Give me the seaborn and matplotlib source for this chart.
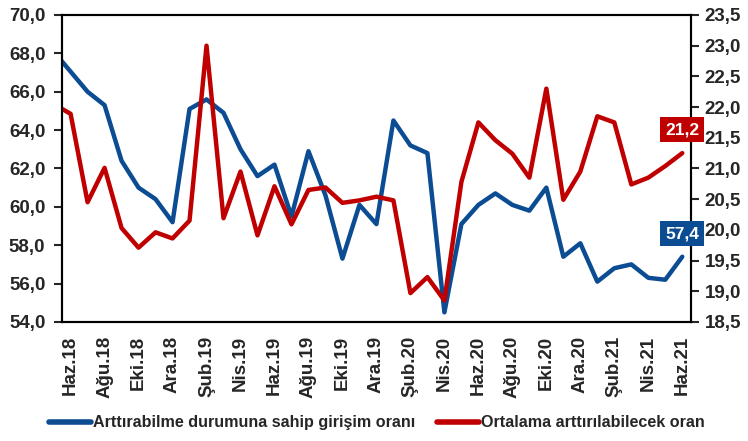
import matplotlib
matplotlib.use('Agg')
import matplotlib.pyplot as plt
from matplotlib.ticker import FixedLocator, FuncFormatter, MultipleLocator
import seaborn as sns
import pandas as pd

# aylar (ilk nokta May.18 eksenin solunda kalıyor, sadece çizgi başlangıcı görünüyor)
months = ['May.18', 'Haz.18', 'Tem.18', 'Ağu.18', 'Eyl.18', 'Eki.18', 'Kas.18', 'Ara.18',
          'Oca.19', 'Şub.19', 'Mar.19', 'Nis.19', 'May.19', 'Haz.19', 'Tem.19', 'Ağu.19',
          'Eyl.19', 'Eki.19', 'Kas.19', 'Ara.19', 'Oca.20', 'Şub.20', 'Mar.20', 'Nis.20',
          'May.20', 'Haz.20', 'Tem.20', 'Ağu.20', 'Eyl.20', 'Eki.20', 'Kas.20', 'Ara.20',
          'Oca.21', 'Şub.21', 'Mar.21', 'Nis.21', 'May.21', 'Haz.21']

# sol eksen: arttırabilme durumuna sahip girişim oranı (%)
share_firms = [68.1, 67.05, 66.0, 65.3, 62.4, 61.0, 60.4, 59.2, 65.1, 65.6, 64.9, 63.0,
               61.6, 62.2, 59.5, 62.9, 60.6, 57.3, 60.1, 59.1, 64.5, 63.2, 62.8, 54.5,
               59.1, 60.1, 60.7, 60.1, 59.8, 61.0, 57.4, 58.1, 56.1, 56.8, 57.0, 56.3,
               56.2, 57.4]

# sağ eksen: ortalama arttırılabilecek oran (%)
avg_rate = [22.05, 21.89, 20.45, 21.01, 20.03, 19.71, 19.96, 19.86, 20.15, 23.0, 20.19,
            20.95, 19.91, 20.71, 20.09, 20.65, 20.69, 20.44, 20.48, 20.54, 20.48, 18.97,
            19.23, 18.85, 20.78, 21.75, 21.46, 21.24, 20.85, 22.3, 20.49, 20.95, 21.85,
            21.75, 20.74, 20.85, 21.04, 21.25]

label_blue = 'Arttırabilme durumuna sahip girişim oranı'
label_red = 'Ortalama arttırılabilecek oran'

BLUE = '#0B4C93'
RED = '#C00000'

df = pd.DataFrame({'pos': list(range(-1, len(months) - 1)), 'ay': months,
                   'blue': share_firms, 'red': avg_rate})

sns.set_style('white')
plt.rcParams['font.family'] = ['Liberation Sans', 'DejaVu Sans']
plt.rcParams['font.weight'] = 'bold'

fig = plt.figure(figsize=(7.48, 4.41), dpi=100)
ax = fig.add_axes([0.083, 0.27, 0.8405, 0.696])
ax2 = ax.twinx()

sns.lineplot(data=df, x='pos', y='blue', ax=ax, color=BLUE, lw=3.2, label=label_blue, legend=False)
sns.lineplot(data=df, x='pos', y='red', ax=ax2, color=RED, lw=3.2, label=label_red, legend=False)

ax.set_xlim(-0.5, len(months) - 1.5)
ax.set_ylim(54, 70)
ax2.set_ylim(18.5, 23.5)
ax.yaxis.set_major_locator(MultipleLocator(2))
ax2.yaxis.set_major_locator(MultipleLocator(0.5))
ax.yaxis.set_major_formatter(FuncFormatter(lambda v, p: f'{v:.1f}'.replace('.', ',')))
ax2.yaxis.set_major_formatter(FuncFormatter(lambda v, p: f'{v:.1f}'.replace('.', ',')))

# tik çizgileri kategori sınırlarında, etiketler kategori ortasında
shown = list(range(0, len(months) - 1, 2))
ax.xaxis.set_major_locator(FixedLocator([p - 0.5 for p in shown]))
ax.xaxis.set_major_formatter(FuncFormatter(lambda v, p: ''))
ax.xaxis.set_minor_locator(FixedLocator(shown))
ax.set_xticklabels([months[p + 1] for p in shown], minor=True, rotation=90,
                   fontsize=13.5, fontweight='bold')
ax.tick_params(axis='x', which='major', direction='out', length=6, width=1.5, color='black')
ax.tick_params(axis='x', which='minor', length=0, pad=10)
ax.tick_params(axis='y', direction='out', length=6, width=1.5, labelsize=13.5, pad=6)
ax2.tick_params(axis='y', direction='out', length=6, width=1.5, labelsize=13.5, pad=4)
for t in ax.get_yticklabels() + ax2.get_yticklabels():
    t.set_fontweight('bold')

ax.set_xlabel('')
ax.set_ylabel('')
ax2.set_ylabel('')
for a in (ax, ax2):
    for s in a.spines.values():
        s.set_visible(True)
        s.set_color('black')
        s.set_linewidth(1.5)

# son değer etiketleri
last = len(months) - 2
ax2.annotate(f'{avg_rate[-1]:.1f}'.replace('.', ','), xy=(last, avg_rate[-1]),
             xytext=(0, 17), textcoords='offset points', ha='center', va='center',
             color='white', fontsize=12.5, fontweight='bold', zorder=10, annotation_clip=False,
             bbox=dict(boxstyle='square,pad=0.28', fc=RED, ec='none'))
ax2.annotate(f'{share_firms[-1]:.1f}'.replace('.', ','), xy=(last, share_firms[-1]),
             xycoords=ax.transData, xytext=(0, 16.5), textcoords='offset points',
             ha='center', va='center', color='white', fontsize=12.5, fontweight='bold',
             zorder=10, annotation_clip=False,
             bbox=dict(boxstyle='square,pad=0.28', fc=BLUE, ec='none'))

h1, l1 = ax.get_legend_handles_labels()
h2, l2 = ax2.get_legend_handles_labels()
leg = fig.legend(h1 + h2, l1 + l2, loc='center', bbox_to_anchor=(0.504, 0.041), ncol=2,
                 frameon=False, handlelength=2.6, handletextpad=0.12, columnspacing=1.35,
                 prop={'weight': 'bold', 'size': 11.6})
for ln in leg.get_lines():
    ln.set_linewidth(4)

plt.savefig('out.png', dpi=100)
